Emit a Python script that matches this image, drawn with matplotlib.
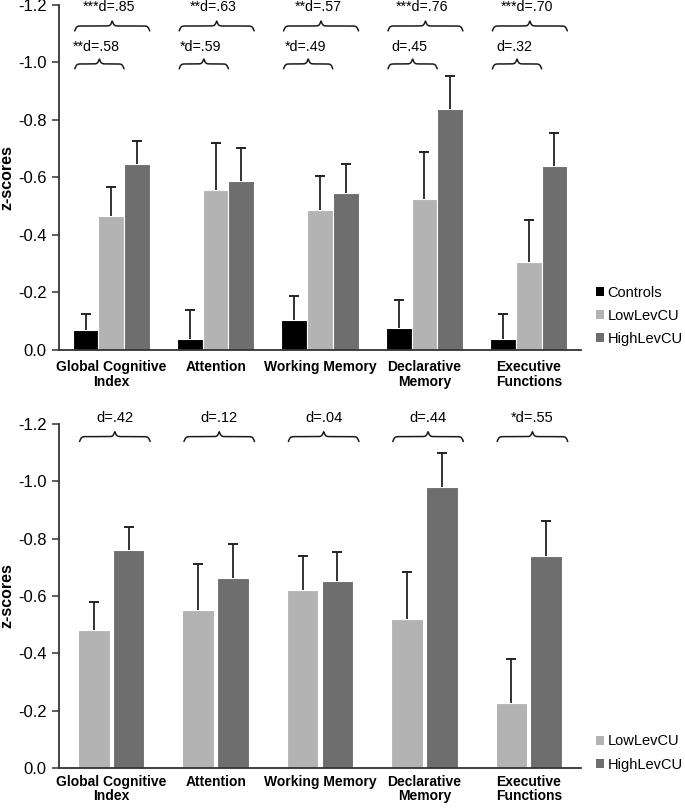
import numpy as np
import matplotlib
matplotlib.use('Agg')
import matplotlib.pyplot as plt
from matplotlib.patches import Patch

plt.rcParams['font.family'] = ['Liberation Sans', 'DejaVu Sans']

categories = ['Global Cognitive\nIndex', 'Attention', 'Working Memory',
              'Declarative\nMemory', 'Executive\nFunctions']

# Top panel: z-scores (negative values, axis inverted)
top_controls = [-0.068, -0.038, -0.105, -0.075, -0.037]
top_controls_err = [0.057, 0.10, 0.083, 0.10, 0.087]
top_low = [-0.467, -0.555, -0.488, -0.526, -0.305]
top_low_err = [0.10, 0.165, 0.117, 0.163, 0.147]
top_high = [-0.647, -0.589, -0.547, -0.839, -0.639]
top_high_err = [0.08, 0.114, 0.10, 0.115, 0.116]
top_upper_labels = ['***d=.85', '**d=.63', '**d=.57', '***d=.76', '***d=.70']
top_lower_labels = ['**d=.58', '*d=.59', '*d=.49', 'd=.45', 'd=.32']

# Bottom panel
bot_low = [-0.48, -0.55, -0.62, -0.52, -0.228]
bot_low_err = [0.10, 0.162, 0.12, 0.163, 0.152]
bot_high = [-0.762, -0.662, -0.654, -0.98, -0.741]
bot_high_err = [0.078, 0.121, 0.099, 0.12, 0.12]
bot_labels = ['d=.42', 'd=.12', 'd=.04', 'd=.44', '*d=.55']

yticks = [0.0, -0.2, -0.4, -0.6, -0.8, -1.0, -1.2]

C_CTRL = '#000000'
C_LOW = '#b3b3b3'
C_HIGH = '#6e6e6e'
ERR_C = '#222222'

W, H = 685, 808
fig = plt.figure(figsize=(W / 100, H / 100), dpi=100)


def brace(ax, x0, x1, y, h=0.034, beta=110.0):
    xm = 0.5 * (x0 + x1)
    n = 200
    xh = np.linspace(x0, xm, n)
    yh = 1 / (1 + np.exp(-beta * (xh - x0))) + 1 / (1 + np.exp(-beta * (xh - xm)))
    xs = np.concatenate([xh, 2 * xm - xh[::-1]])
    ys = np.concatenate([yh, yh[::-1]])
    ys = y - (ys - 1.0) * h
    ax.plot(xs, ys, color='#1a1a1a', lw=1.1, clip_on=False, solid_capstyle='round')


def one_sided_err(ax, xp, vals, errs):
    vals = np.asarray(vals)
    errs = np.asarray(errs)
    tips = vals - errs
    ax.vlines(xp, vals, tips, color=ERR_C, lw=1.3, zorder=3)
    ax.plot(xp, tips, ls='none', marker='_', ms=7, mew=1.4, color=ERR_C, zorder=3)


def style_axes(ax, xpad, lsp):
    ax.set_xlim(-0.5, 4.5)
    ax.set_ylim(0, -1.2)
    ax.set_yticks(yticks)
    ax.set_yticklabels(['%.1f' % abs(v) if v == 0 else '%.1f' % v for v in yticks])
    ax.tick_params(axis='y', direction='out', length=5, width=1.1, color='#333333',
                   labelsize=12, pad=4)
    ax.tick_params(axis='x', length=0, labelsize=10, pad=xpad)
    ax.set_xticks(range(len(categories)))
    ax.set_xticklabels(categories, fontweight='bold', linespacing=lsp)
    for s in ['top', 'right']:
        ax.spines[s].set_visible(False)
    for s in ['left', 'bottom']:
        ax.spines[s].set_color('#333333')
        ax.spines[s].set_linewidth(1.3)
    ax.set_ylabel('z-scores', fontweight='bold', fontsize=11.5, labelpad=6)
    ax.yaxis.set_label_coords(-0.085, 0.5)


x = np.arange(len(categories))

# ---------------- top panel ----------------
ax1 = fig.add_axes([59 / W, 1 - 350 / H, 522 / W, 345 / H])
w1 = 0.246
series_top = [(top_controls, top_controls_err, C_CTRL, 'Controls'),
              (top_low, top_low_err, C_LOW, 'LowLevCU'),
              (top_high, top_high_err, C_HIGH, 'HighLevCU')]
for i, (vals, errs, col, lab) in enumerate(series_top):
    xp = x + (i - 1) * w1
    ax1.bar(xp, vals, width=w1, color=col, edgecolor='white', linewidth=0.8, label=lab, zorder=2)
    one_sided_err(ax1, xp, vals, errs)
style_axes(ax1, 7, 1.1)

for i in range(len(categories)):
    left = x[i] - 1.5 * w1 + 0.02
    right_hi = x[i] + 1.5 * w1
    right_lo = x[i] + 0.5 * w1
    brace(ax1, left, right_hi, -1.127)
    brace(ax1, left, right_lo, -0.995)
    ax1.text(0.5 * (left + right_hi) - 0.03, -1.193, top_upper_labels[i], ha='center',
             va='center', fontsize=10.2, clip_on=False)
    ax1.text(0.5 * (left + right_lo) - 0.03, -1.054, top_lower_labels[i], ha='center',
             va='center', fontsize=10.2, clip_on=False)

h1 = [Patch(facecolor=c, edgecolor='none', label=l) for c, l in
      [(C_CTRL, 'Controls'), (C_LOW, 'LowLevCU'), (C_HIGH, 'HighLevCU')]]
fig.legend(handles=h1, loc='center left', bbox_to_anchor=(596 / W, 1 - 316 / H),
           frameon=False, fontsize=10.5, handlelength=0.55, handleheight=0.55,
           handletextpad=0.25, labelspacing=0.62, borderpad=0, borderaxespad=0)

# ---------------- bottom panel ----------------
ax2 = fig.add_axes([59 / W, 1 - 768 / H, 522 / W, 344 / H])
w2 = 0.333
series_bot = [(bot_low, bot_low_err, C_LOW, 'LowLevCU'),
              (bot_high, bot_high_err, C_HIGH, 'HighLevCU')]
for i, (vals, errs, col, lab) in enumerate(series_bot):
    xp = x + (i - 0.5) * w2
    ax2.bar(xp, vals, width=w2 - 0.03, color=col, edgecolor='white', linewidth=0.8,
            label=lab, zorder=2)
    one_sided_err(ax2, xp, vals, errs)
style_axes(ax2, 5, 1.0)

for i in range(len(categories)):
    left = x[i] - w2 + 0.03
    right = x[i] + w2 + 0.04
    brace(ax2, left, right, -1.156)
    ax2.text(0.5 * (left + right), -1.222, bot_labels[i], ha='center', va='center',
             fontsize=10.5, clip_on=False)

h2 = [Patch(facecolor=c, edgecolor='none', label=l) for c, l in
      [(C_LOW, 'LowLevCU'), (C_HIGH, 'HighLevCU')]]
fig.legend(handles=h2, loc='center left', bbox_to_anchor=(596 / W, 1 - 753 / H),
           frameon=False, fontsize=10.5, handlelength=0.55, handleheight=0.55,
           handletextpad=0.25, labelspacing=0.62, borderpad=0, borderaxespad=0)

fig.savefig('out.png', dpi=100)
